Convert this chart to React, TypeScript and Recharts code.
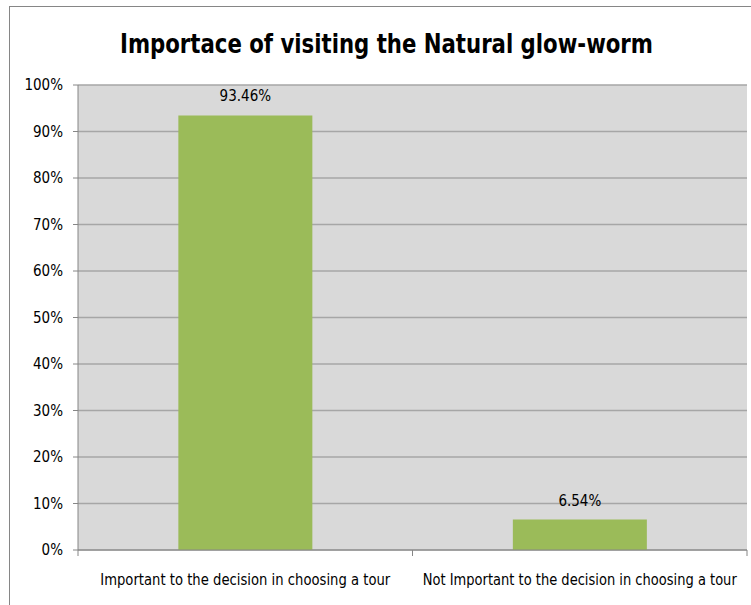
import React from 'react';
import { BarChart, Bar, XAxis, YAxis, CartesianGrid, LabelList } from 'recharts';

const categories = [
  'Important to the decision in choosing a tour',
  'Not Important to the decision in choosing a tour',
];
const shares = [93.46, 6.54];
const yTicks = [0, 10, 20, 30, 40, 50, 60, 70, 80, 90, 100];
const titleText = 'Importace of visiting the Natural glow-worm';

const data = categories.map((c, i) => ({ name: c, value: shares[i] }));

const FONT = "'DejaVu Sans Condensed', 'Liberation Sans Narrow', 'Open Sans', sans-serif";
const W = 751;
const H = 605;
const LEFT = 78;
const RIGHT = 4;
const BAND = (W - LEFT - RIGHT) / categories.length;
const CAT_LABEL_WIDTHS = [290, 314];

const CategoryTick = (props: any) => {
  const { x, y, payload, index } = props;
  const lines = [
    <line key="l" x1={x - BAND / 2} x2={x - BAND / 2} y1={y - 8} y2={y - 2} stroke="#868686" strokeWidth={1} />,
  ];
  if (index === categories.length - 1) {
    lines.push(
      <line key="r" x1={x + BAND / 2} x2={x + BAND / 2} y1={y - 8} y2={y - 2} stroke="#868686" strokeWidth={1} />
    );
  }
  return (
    <g>
      {lines}
      <text
        x={x}
        y={585}
        textAnchor="middle"
        fontSize={15}
        fill="#000"
        fontFamily={FONT}
        textLength={CAT_LABEL_WIDTHS[index]}
        lengthAdjust="spacingAndGlyphs"
      >
        {payload.value}
      </text>
    </g>
  );
};

export default function App() {
  return (
    <div style={{ position: 'absolute', left: 0, top: 0, width: W, height: H, background: '#fff', overflow: 'hidden' }}>
      <div
        style={{
          position: 'absolute',
          left: 9,
          top: 6,
          width: W + 20,
          height: H + 20,
          border: '1.5px solid #868686',
          boxSizing: 'border-box',
        }}
      />
      <div style={{ position: 'absolute', left: 0, top: 0 }}>
        <BarChart
          width={W}
          height={H}
          data={data}
          margin={{ top: 85, right: RIGHT, bottom: 15, left: 0 }}
          barCategoryGap="30%"
        >
          <CartesianGrid vertical={false} fill="#d9d9d9" stroke="#a6a6a6" strokeWidth={1.5} />
          <XAxis
            dataKey="name"
            height={40}
            axisLine={{ stroke: '#868686', strokeWidth: 1 }}
            tickLine={false}
            tick={<CategoryTick />}
            interval={0}
          />
          <YAxis
            width={LEFT}
            domain={[0, 100]}
            ticks={yTicks}
            tickFormatter={(v: number) => `${v}%`}
            axisLine={{ stroke: '#868686', strokeWidth: 1 }}
            tickLine={{ stroke: '#868686' }}
            tickSize={5}
            tickMargin={10}
            tick={{ fontSize: 15, fill: '#000', fontFamily: FONT }}
            interval={0}
          />
          <Bar dataKey="value" fill="#9bbb59" isAnimationActive={false}>
            <LabelList
              dataKey="value"
              position="top"
              offset={14}
              formatter={(v: any) => `${Number(v).toFixed(2)}%`}
              style={{ fontSize: 15, fill: '#000', fontFamily: FONT }}
            />
          </Bar>
        </BarChart>
      </div>
      <svg style={{ position: 'absolute', left: 0, top: 0 }} width={W} height={80}>
        <text
          x={120}
          y={53}
          fontSize={27}
          fontWeight="bold"
          fontFamily={FONT}
          fill="#000"
          textLength={533}
          lengthAdjust="spacingAndGlyphs"
        >
          {titleText}
        </text>
      </svg>
    </div>
  );
}
